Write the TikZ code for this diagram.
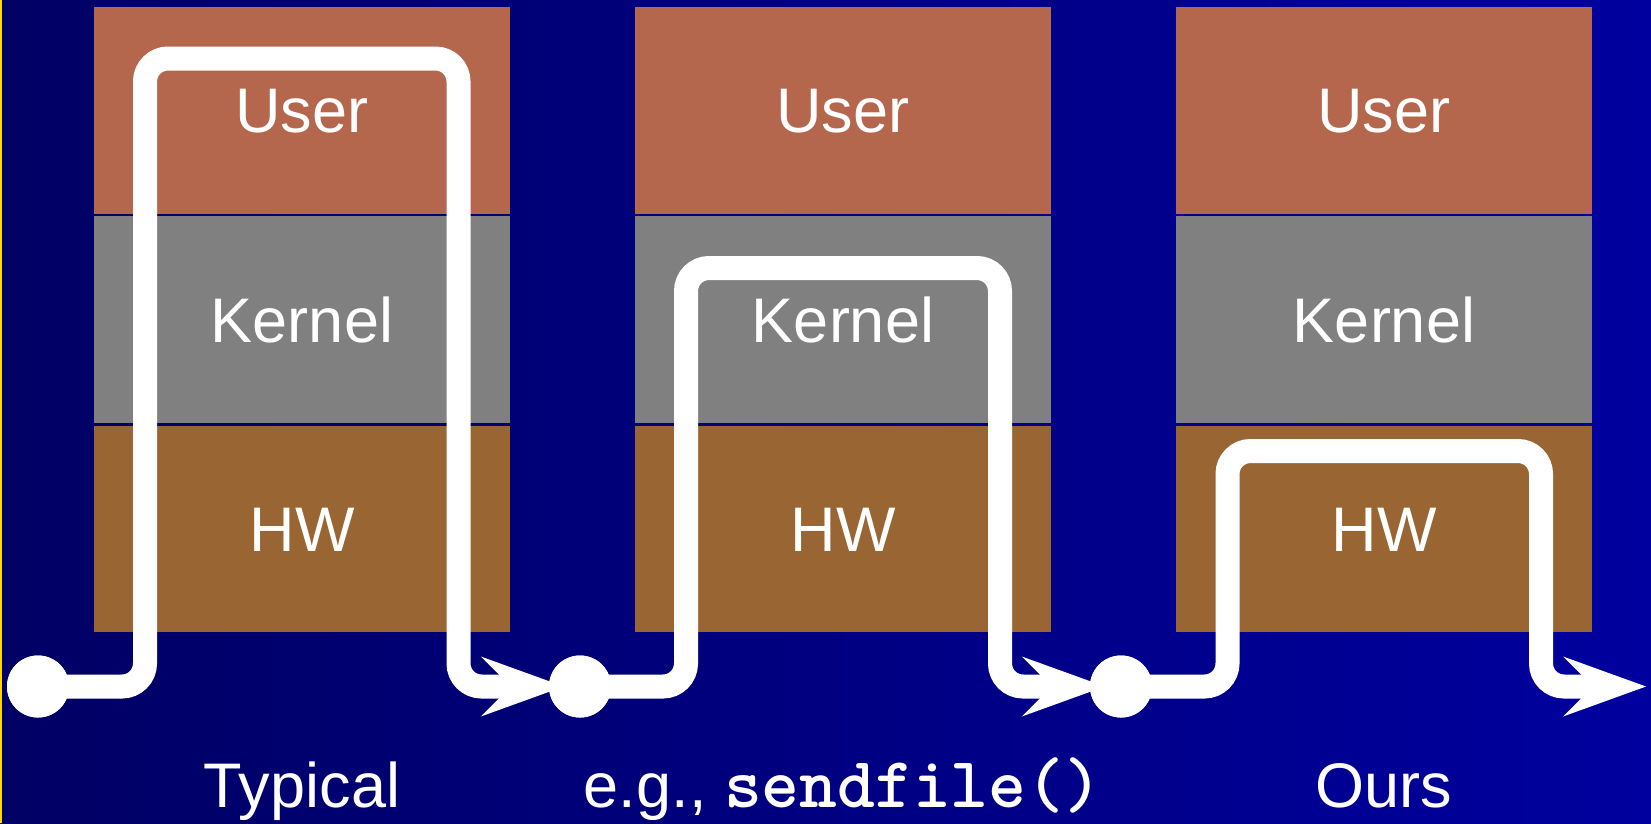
\documentclass[tikz,border=0pt]{standalone}
\usepackage{fontspec}
\setmainfont{Liberation Sans}
\usetikzlibrary{arrows.meta}
\definecolor{bgleft}{RGB}{0,0,100}
\definecolor{bgright}{RGB}{0,0,158}
\definecolor{userc}{RGB}{180,103,77}
\definecolor{kernelc}{RGB}{128,128,128}
\definecolor{hwc}{RGB}{153,102,51}
\definecolor{edgec}{RGB}{255,214,0}

\begin{document}
\begin{tikzpicture}[x=1pt,y=-1pt,
  layer/.style={rectangle, inner sep=0pt, minimum width=416pt, minimum height=206.5pt,
    text=white, font=\fontsize{63pt}{70pt}\selectfont, text height=45pt, text depth=0pt},
  caption/.style={anchor=base, text=white, inner sep=0pt, font=\fontsize{63pt}{70pt}\selectfont},
  dot/.style={circle, fill=white, inner sep=0pt, minimum size=62pt},
  flow/.style={draw=white, line width=24pt, rounded corners=23pt,
    -{Stealth[length=83pt,width=60pt,inset=30pt,line width=0pt 0 0]}},
]
% page and background
\useasboundingbox (0,0) rectangle (1651,823);
\shade[left color=bgleft, right color=bgright] (0,0) rectangle (1651,823);
\fill[edgec] (0,0) rectangle (1.5,823);

% three stacks of layers
\foreach \c/\x in {1/302, 2/843, 3/1384} {
  \node[layer, fill=userc]   (u\c) at (\x,110.25) {User};
  \node[layer, fill=kernelc] (k\c) at (\x,319.5)  {Kernel};
  \node[layer, fill=hwc]     (h\c) at (\x,528.75) {HW};
}

% captions
\node[caption] (cap1) at (302,807) {Typical};
\node[caption] (cap2) at (843,807) {e.g., {\fontsize{72pt}{80pt}\selectfont\ttfamily\bfseries sendfile()}};
\node[caption] (cap3) at (1384,807) {Ours};

% start points of each data path
\node[dot] (s1) at (38,686.5) {};
\node[dot] (s2) at (580,686.5) {};
\node[dot] (s3) at (1121,686.5) {};
\coordinate (e3) at (1646,686.5);

% turning points at the top of each path
\coordinate (t1l) at (145,58.5);
\coordinate (t1r) at (458.5,58.5);
\coordinate (t2l) at (686,268);
\coordinate (t2r) at (1000,268);
\coordinate (t3l) at (1227.5,451);
\coordinate (t3r) at (1541,451);

% data paths
\draw[flow, shorten >=-15pt] (s1.center) -| (t1l) -- (t1r) |- (s2);
\draw[flow, shorten >=-15pt] (s2.center) -| (t2l) -- (t2r) |- (s3);
\draw[flow] (s3.center) -| (t3l) -- (t3r) |- (e3);

% dots drawn again on top of the paths
\foreach \n in {s1,s2,s3} {
  \fill[white] (\n) circle[radius=31pt];
}
\end{tikzpicture}
\end{document}
